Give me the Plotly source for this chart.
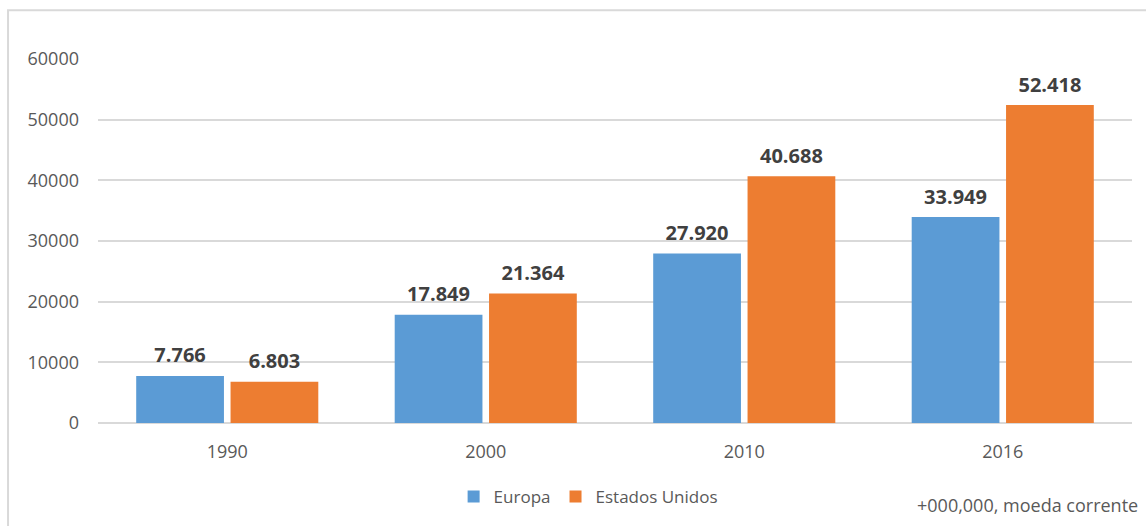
import plotly.graph_objects as go

# Data
anos = ["1990", "2000", "2010", "2016"]
europa = [7766, 17849, 27920, 33949]
estados_unidos = [6803, 21364, 40688, 52418]
y_ticks = [0, 10000, 20000, 30000, 40000, 50000, 60000]


def rotulo(v):
    # thousands separator as "." (pt-BR)
    return f"{v/1000:.3f}"


AZUL = "#5B9BD5"
LARANJA = "#ED7D31"
FONTE = "Open Sans, Lato, sans-serif"

fig = go.Figure()
fig.add_trace(go.Bar(name="Europa", x=anos, y=europa, marker_color=AZUL,
                     marker_line_width=0))
fig.add_trace(go.Bar(name="Estados Unidos", x=anos, y=estados_unidos,
                     marker_color=LARANJA, marker_line_width=0))

# value labels, grouped like the bars; the invisible marker lifts the text
for serie in (europa, estados_unidos):
    fig.add_trace(go.Scatter(
        x=anos, y=serie, mode="markers+text", text=[rotulo(v) for v in serie],
        textposition="top center", showlegend=False, hoverinfo="skip",
        cliponaxis=False, marker=dict(size=12, opacity=0),
        textfont=dict(family=FONTE, size=20, color="#404040", weight="bold"),
    ))

fig.update_layout(
    width=1146, height=526,
    margin=dict(l=98, r=14, t=59, b=102),
    paper_bgcolor="white", plot_bgcolor="white",
    barmode="group", bargap=0.27, bargroupgap=0.07,
    scattermode="group", scattergap=0.27,
    font=dict(family=FONTE, color="#595959", size=18),
    showlegend=True,
    legend=dict(orientation="h", x=0.474, xanchor="center", y=-0.2,
                yanchor="middle", font=dict(size=17, color="#595959"),
                itemwidth=30, traceorder="normal"),
    xaxis=dict(showgrid=False, showline=False, ticks="",
               tickfont=dict(size=18), ticklabelstandoff=16),
    yaxis=dict(range=[0, 60000], tickvals=y_ticks, showgrid=True,
               gridcolor="#D9D9D9", gridwidth=1.5, zeroline=True,
               zerolinecolor="#D9D9D9", zerolinewidth=1.5, showline=False,
               ticks="", ticklabelstandoff=18, tickformat="d",
               tickfont=dict(size=18)),
    shapes=[dict(type="rect", xref="paper", yref="paper",
                 x0=-0.087, x1=1.05, y0=-0.5, y1=1.134,
                 line=dict(color="#D9D9D9", width=2), layer="below")],
    annotations=[dict(text="+000,000, moeda corrente", xref="paper",
                      yref="paper", x=1.0077, xanchor="right", y=-0.225,
                      yanchor="middle", showarrow=False,
                      font=dict(size=18, color="#595959"))],
)

fig.write_html("out.html")
